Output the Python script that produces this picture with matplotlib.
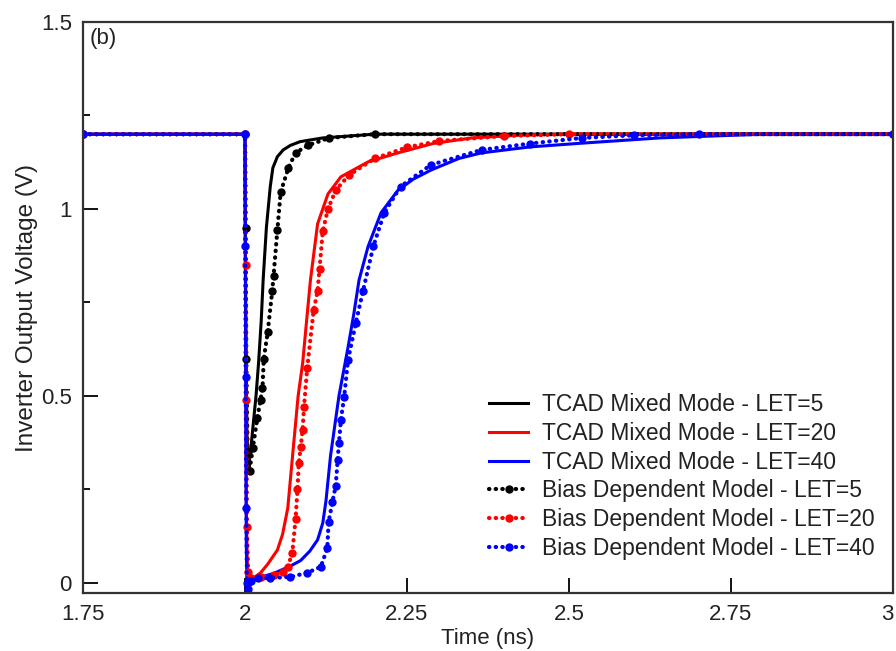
"""
Inverter output voltage transient: TCAD mixed mode vs bias dependent model
"""

import matplotlib
matplotlib.use("Agg")
import matplotlib.pyplot as plt
import matplotlib.ticker as mticker

plt.rcParams["font.family"] = ["Liberation Sans", "DejaVu Sans"]

# ── Data (time in ns, voltage in V) ─────────────────────────────
tcad_let5_t = [1.75, 2.0, 2.001, 2.003, 2.005, 2.008, 2.013, 2.017, 2.021, 2.025,
               2.028, 2.033, 2.039, 2.043, 2.05, 2.059, 2.07, 2.085, 2.12, 2.2, 3.0]
tcad_let5_v = [1.2, 1.2, 0.75, 0.4, 0.31, 0.34, 0.43, 0.5, 0.59, 0.7,
               0.81, 0.95, 1.06, 1.11, 1.14, 1.158, 1.17, 1.18, 1.19, 1.2, 1.2]

tcad_let20_t = [1.75, 2.0, 2.001, 2.002, 2.004, 2.008, 2.013, 2.024, 2.035, 2.05,
                2.058, 2.066, 2.075, 2.082, 2.089, 2.095, 2.101, 2.112, 2.128, 2.148,
                2.19, 2.236, 2.29, 2.35, 2.42, 2.5, 3.0]
tcad_let20_v = [1.2, 1.2, 0.7, 0.2, 0.02, 0.005, 0.013, 0.027, 0.05, 0.088,
                0.13, 0.2, 0.37, 0.5, 0.588, 0.7, 0.81, 0.96, 1.04, 1.086,
                1.126, 1.15, 1.175, 1.19, 1.197, 1.2, 1.2]

tcad_let40_t = [1.75, 2.0, 2.001, 2.002, 2.003, 2.006, 2.02, 2.045, 2.07, 2.086,
                2.1, 2.112, 2.12, 2.125, 2.132, 2.145, 2.159, 2.168, 2.176, 2.19,
                2.21, 2.236, 2.26, 2.287, 2.33, 2.365, 2.44, 2.52, 2.64, 2.8, 3.0]
tcad_let40_v = [1.2, 1.2, 0.6, 0.1, -0.01, 0.0, 0.013, 0.026, 0.045, 0.06,
                0.085, 0.115, 0.16, 0.22, 0.34, 0.5, 0.63, 0.72, 0.81, 0.9,
                0.99, 1.05, 1.08, 1.104, 1.135, 1.15, 1.166, 1.176, 1.19, 1.2, 1.2]

model_let5_t = [1.75, 2.0, 2.001, 2.002, 2.004, 2.007, 2.012, 2.019, 2.024, 2.027,
                2.029, 2.035, 2.042, 2.044, 2.05, 2.055, 2.067, 2.078, 2.097, 2.13,
                2.2, 3.0]
model_let5_v = [1.2, 1.2, 0.95, 0.6, 0.35, 0.3, 0.36, 0.44, 0.49, 0.52,
                0.6, 0.67, 0.78, 0.82, 0.944, 1.045, 1.11, 1.15, 1.17, 1.19,
                1.2, 1.2]

model_let20_t = [1.75, 2.0, 2.001, 2.002, 2.003, 2.005, 2.01, 2.025, 2.045, 2.058,
                 2.066, 2.073, 2.078, 2.081, 2.083, 2.086, 2.089, 2.091, 2.096, 2.106,
                 2.112, 2.115, 2.12, 2.128, 2.14, 2.16, 2.2, 2.25, 2.3, 2.4, 2.5, 3.0]
model_let20_v = [1.2, 1.2, 0.85, 0.49, 0.15, 0.03, 0.012, 0.015, 0.02, 0.03,
                 0.043, 0.08, 0.17, 0.25, 0.32, 0.364, 0.41, 0.47, 0.575, 0.73,
                 0.78, 0.84, 0.94, 1.0, 1.05, 1.09, 1.135, 1.165, 1.182, 1.195, 1.2, 1.2]

model_let40_t = [1.75, 2.0, 2.0005, 2.001, 2.002, 2.003, 2.005, 2.01, 2.02, 2.039,
                 2.07, 2.096, 2.117, 2.127, 2.129, 2.135, 2.14, 2.143, 2.145, 2.148,
                 2.153, 2.159, 2.171, 2.182, 2.198, 2.215, 2.24, 2.287, 2.365, 2.44,
                 2.52, 2.6, 2.7, 3.0]
model_let40_v = [1.2, 1.2, 0.9, 0.55, 0.2, 0.0, -0.015, 0.005, 0.013, 0.013,
                 0.016, 0.027, 0.043, 0.093, 0.163, 0.217, 0.26, 0.33, 0.374, 0.436,
                 0.497, 0.596, 0.695, 0.78, 0.9, 0.99, 1.06, 1.118, 1.158, 1.175,
                 1.19, 1.197, 1.2, 1.2]

X_TICKS = [1.75, 2.0, 2.25, 2.5, 2.75, 3.0]
X_TICK_LABELS = ["1.75", "2", "2.25", "2.5", "2.75", "3"]
Y_TICKS = [0, 0.5, 1.0, 1.5]
Y_TICK_LABELS = ["0", "0.5", "1", "1.5"]

TEXT_COLOR = "#222222"
DOT_STYLE = (0, (0.1, 1.5))

fig = plt.figure(figsize=(8.96, 6.51), dpi=100)
ax = fig.add_axes([83 / 896, 58 / 651, 810 / 896, 571 / 651])

# solid TCAD curves
ax.plot(tcad_let5_t, tcad_let5_v, color="black", lw=2.2, label="TCAD Mixed Mode - LET=5")
ax.plot(tcad_let20_t, tcad_let20_v, color="red", lw=2.2, label="TCAD Mixed Mode - LET=20")
ax.plot(tcad_let40_t, tcad_let40_v, color="blue", lw=2.2, label="TCAD Mixed Mode - LET=40")

# dotted model curves
for t, v, c, lab in [
    (model_let5_t, model_let5_v, "black", "Bias Dependent Model - LET=5"),
    (model_let20_t, model_let20_v, "red", "Bias Dependent Model - LET=20"),
    (model_let40_t, model_let40_v, "blue", "Bias Dependent Model - LET=40"),
]:
    ax.plot(t, v, color=c, lw=3, linestyle=DOT_STYLE, dash_capstyle="round",
            marker="o", markersize=5, label=lab)

ax.set_xlim(1.75, 3.0)
ax.set_ylim(-0.027, 1.5)
ax.set_xticks(X_TICKS)
ax.set_xticklabels(X_TICK_LABELS)
ax.set_yticks(Y_TICKS)
ax.set_yticklabels(Y_TICK_LABELS)
ax.yaxis.set_minor_locator(mticker.MultipleLocator(0.25))

ax.tick_params(axis="both", which="major", direction="in", length=11, width=1.3,
               labelsize=16, labelcolor=TEXT_COLOR, pad=8)
ax.tick_params(axis="both", which="minor", direction="in", length=5, width=1.3)
# last x label sits at the figure edge: right-align it so it stays inside
ax.get_xticklabels()[-1].set_horizontalalignment("right")
for s in ax.spines.values():
    s.set_linewidth(1.6)
    s.set_color("#333333")

ax.set_xlabel("Time (ns)", fontsize=16, color=TEXT_COLOR, labelpad=2)
ax.set_ylabel("Inverter Output Voltage (V)", fontsize=17.5, color=TEXT_COLOR, labelpad=2)

ax.text(0.008, 0.99, "(b)", transform=ax.transAxes, fontsize=16,
        color=TEXT_COLOR, ha="left", va="top")

leg = ax.legend(loc="lower right", bbox_to_anchor=(0.997, 0.03), frameon=False,
                fontsize=16.5, handlelength=1.7, handletextpad=0.6, labelspacing=0.25,
                borderpad=0.2)
for txt in leg.get_texts():
    txt.set_color(TEXT_COLOR)

plt.savefig("out.png", dpi=100)
plt.close()
